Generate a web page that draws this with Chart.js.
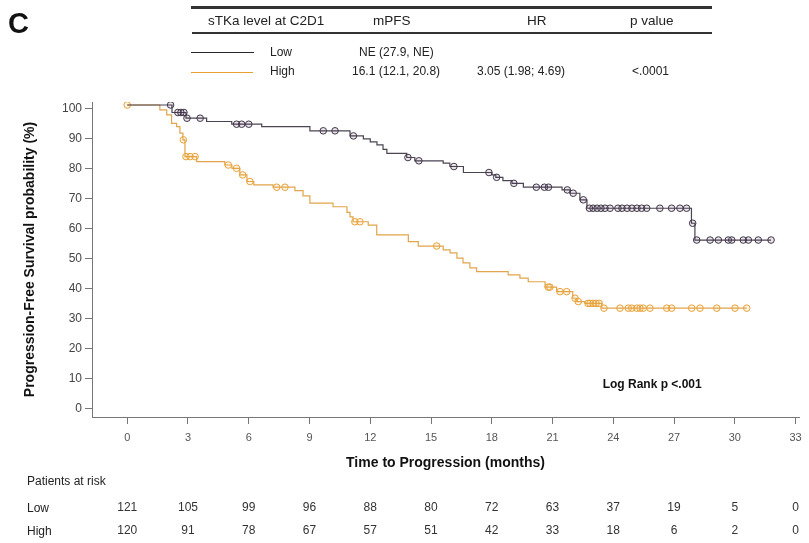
<!DOCTYPE html>
<html>
<head>
<meta charset="utf-8">
<script src="https://cdn.jsdelivr.net/npm/chart.js@4.4.1/dist/chart.umd.min.js"></script>
<style>
  html, body { margin: 0; padding: 0; background: #fff; }
  #wrap { position: relative; width: 809px; height: 543px; font-family: "Liberation Sans", Arial, sans-serif; color: #222; }
  #wrap canvas { position: absolute; left: 0; top: 0; }
  .t { position: absolute; white-space: nowrap; line-height: 16px; font-size: 12px; }
  .h { font-size: 13.5px; }
  .rule { position: absolute; }
</style>
</head>
<body>
<div id="wrap">
  <canvas id="km" width="809" height="543"></canvas>

  <div class="t" style="left:8px;top:5.9px;font-size:29px;line-height:34px;font-weight:bold;color:#111">C</div>

  <!-- summary table -->
  <div class="rule" style="left:191px;top:6px;width:521px;height:2.5px;background:#333"></div>
  <div class="t h" style="left:208px;top:12.9px">sTKa level at C2D1</div>
  <div class="t h" style="left:373px;top:12.9px">mPFS</div>
  <div class="t h" style="left:527px;top:12.9px">HR</div>
  <div class="t h" style="left:630px;top:12.9px">p value</div>
  <div class="rule" style="left:192px;top:31.7px;width:520px;height:2px;background:#333"></div>

  <div class="rule" style="left:191px;top:52px;width:63px;height:1px;background:#2a2530"></div>
  <div class="t" style="left:270px;top:43.8px">Low</div>
  <div class="t" style="left:359px;top:43.8px">NE (27.9, NE)</div>

  <div class="rule" style="left:191px;top:72.2px;width:62px;height:1px;background:#e8a030"></div>
  <div class="t" style="left:270px;top:62.8px">High</div>
  <div class="t" style="left:352px;top:62.8px">16.1 (12.1, 20.8)</div>
  <div class="t" style="left:477px;top:62.8px">3.05 (1.98; 4.69)</div>
  <div class="t" style="left:632px;top:62.8px">&lt;.0001</div>

  <div class="t" style="left:602.7px;top:376.4px;font-weight:bold;color:#111">Log Rank p &lt;.001</div>

  <!-- at-risk labels -->
  <div class="t" style="left:27px;top:472.8px">Patients at risk</div>
  <div class="t" style="left:27px;top:499.8px">Low</div>
  <div class="t" style="left:27px;top:523.1px">High</div>
</div>

<script>
// ticks
const xTicks = [0, 3, 6, 9, 12, 15, 18, 21, 24, 27, 30, 33];
const yTicks = [0, 10, 20, 30, 40, 50, 60, 70, 80, 90, 100];

// sTKa low: event times (months) and survival (%) after each step
const lowTimes = [0, 2.21, 2.90, 3.92, 5.16, 6.64, 9.02, 11.0, 11.66, 12.0, 12.33, 12.63, 12.82,
  13.8, 14.2, 15.6, 15.93, 16.6, 18.0, 18.2, 18.55, 19.0, 19.56, 21.47, 21.86, 22.35, 22.7, 27.86, 28.03];
const lowSurv = [101.3, 98.8, 96.9, 95.8, 94.9, 94.1, 92.7, 91.0, 90.0, 89.0, 88.0, 86.5, 85.2,
  83.8, 82.7, 81.9, 80.8, 78.8, 78.0, 77.2, 76.1, 75.2, 73.9, 73.0, 71.9, 69.7, 66.9, 61.9, 56.3];
const lowCensor = [2.14, 2.5, 2.65, 2.8, 2.95, 3.6, 5.4, 5.65, 6.0, 9.68, 10.26, 11.17, 13.86, 14.4,
  16.13, 17.86, 18.24, 19.09, 20.2, 20.6, 20.8, 21.73, 22.02, 22.52,
  22.82, 23.0, 23.2, 23.39, 23.59, 23.84, 24.23, 24.43, 24.68, 24.92, 25.17, 25.4, 25.65, 26.3,
  26.88, 27.29, 27.62, 27.92, 28.12, 28.78, 29.19, 29.68, 29.85, 30.42, 30.67, 31.16, 31.79];

// sTKa high
const highTimes = [0, 1.61, 1.95, 2.19, 2.44, 2.60, 2.75, 2.85, 3.43, 4.82, 5.17, 5.56, 5.91, 6.25,
  7.2, 8.28, 8.68, 9.02, 10.16, 10.85, 11.0, 11.15, 11.9, 12.32, 13.88, 14.37, 15.6, 15.94, 16.28,
  16.58, 16.92, 17.25, 18.81, 19.39, 19.8, 20.63, 21.2, 22.0, 22.2, 22.6, 23.43];
const highSurv = [101.3, 99.7, 98.0, 95.2, 94.1, 91.9, 89.7, 84.1, 82.4, 81.3, 80.2, 78.0, 75.8, 74.7,
  73.9, 72.8, 71.0, 68.6, 67.4, 65.5, 64.0, 62.4, 61.3, 58.0, 55.8, 54.3, 53.0, 52.0, 50.3,
  48.7, 47.0, 45.8, 44.7, 43.6, 42.4, 40.6, 39.1, 36.9, 35.8, 35.2, 33.6];
const highCensor = [0, 2.77, 2.9, 3.1, 3.35, 4.99, 5.4, 5.7, 6.06, 7.38, 7.79, 11.24, 11.49, 15.28,
  20.79, 20.87, 21.37, 21.7, 22.11, 22.27, 22.75, 22.85, 23.0, 23.15, 23.3,
  23.54, 24.33, 24.74, 24.91, 25.16, 25.32, 25.48, 25.81, 26.64, 26.88, 27.87, 28.28, 29.11, 30.01, 30.59];

// patients at risk at each x tick
const riskLow = [121, 105, 99, 96, 88, 80, 72, 63, 37, 19, 5, 0];
const riskHigh = [120, 91, 78, 67, 57, 51, 42, 33, 18, 6, 2, 0];

function stepPoints(times, surv, endTime) {
  const pts = times.map((t, i) => ({ x: t, y: surv[i] }));
  pts.push({ x: endTime, y: surv[surv.length - 1] });
  return pts;
}

function censorPoints(times, surv, censor) {
  return censor.map(c => {
    let i = 0;
    while (i + 1 < times.length && times[i + 1] <= c) i++;
    return { x: c, y: surv[i] };
  });
}

const riskTable = {
  id: 'riskTable',
  afterDraw(chart) {
    const ctx = chart.ctx;
    const xs = chart.scales.x;
    ctx.save();
    ctx.font = '12px "Liberation Sans", Arial, sans-serif';
    ctx.fillStyle = '#333';
    ctx.textAlign = 'center';
    ctx.textBaseline = 'middle';
    xTicks.forEach((t, i) => {
      const px = xs.getPixelForValue(t);
      ctx.fillText(String(riskLow[i]), px, 507.7);
      ctx.fillText(String(riskHigh[i]), px, 531);
    });
    ctx.restore();
  }
};

Chart.defaults.font.family = '"Liberation Sans", Arial, sans-serif';

new Chart(document.getElementById('km'), {
  type: 'line',
  data: {
    datasets: [
      {
        data: censorPoints(lowTimes, lowSurv, lowCensor),
        showLine: false,
        pointRadius: 3.3,
        pointBorderWidth: 1,
        pointBorderColor: '#3f3547',
        pointBackgroundColor: 'rgba(70,40,80,0.12)'
      },
      {
        data: stepPoints(lowTimes, lowSurv, lowCensor[lowCensor.length - 1]),
        stepped: 'before',
        borderColor: '#4b4452',
        borderWidth: 1.2,
        pointRadius: 0
      },
      {
        data: censorPoints(highTimes, highSurv, highCensor),
        showLine: false,
        pointRadius: 3.3,
        pointBorderWidth: 1,
        pointBorderColor: '#e8a23a',
        pointBackgroundColor: 'rgba(240,170,60,0.12)'
      },
      {
        data: stepPoints(highTimes, highSurv, highCensor[highCensor.length - 1]),
        stepped: 'before',
        borderColor: '#e2a44c',
        borderWidth: 1.2,
        pointRadius: 0
      }
    ]
  },
  options: {
    responsive: false,
    animation: false,
    layout: { padding: { left: 22, top: 102, right: 10, bottom: 71.6 } },
    plugins: { legend: { display: false }, tooltip: { enabled: false } },
    scales: {
      x: {
        type: 'linear',
        min: -1.74,
        max: 33.17,
        afterBuildTicks: s => { s.ticks = xTicks.map(v => ({ value: v })); },
        afterFit: s => { s.height = 54.4; },
        grid: { drawOnChartArea: false, tickLength: 7, color: '#777' },
        border: { color: '#777' },
        ticks: { font: { size: 11 }, color: '#555', padding: 7, maxRotation: 0, autoSkip: false },
        title: { display: true, text: 'Time to Progression (months)', font: { size: 14, weight: 'bold' }, color: '#111', padding: 0 }
      },
      y: {
        min: -2.67,
        max: 102.3,
        afterBuildTicks: s => { s.ticks = yTicks.map(v => ({ value: v })); },
        afterFit: s => { s.width = 70; },
        grid: { drawOnChartArea: false, tickLength: 7, color: '#777' },
        border: { color: '#777' },
        ticks: { font: { size: 12 }, color: '#444', padding: 3, autoSkip: false },
        title: { display: true, text: 'Progression-Free Survival probability (%)', font: { size: 14, weight: 'bold' }, color: '#111', padding: 0 }
      }
    }
  },
  plugins: [riskTable]
});
</script>
</body>
</html>
